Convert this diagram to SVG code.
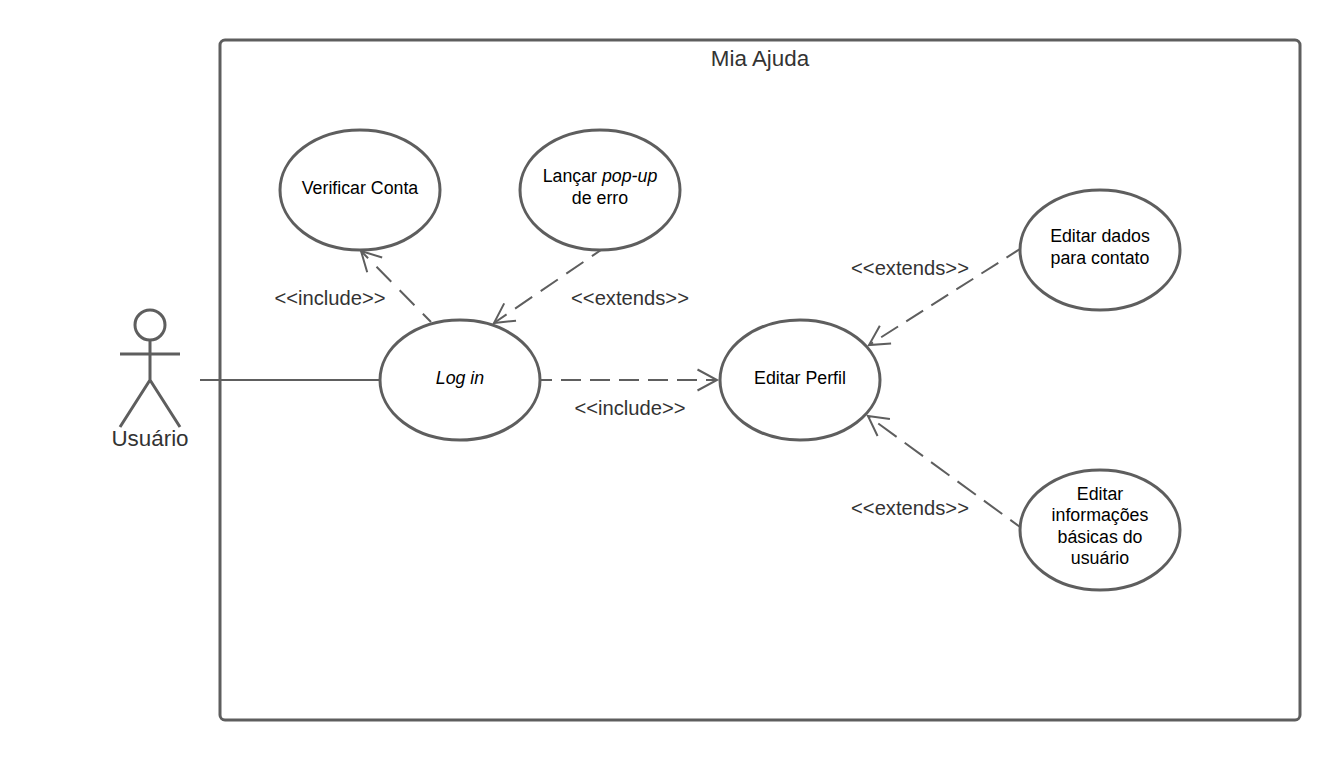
<svg xmlns="http://www.w3.org/2000/svg" width="1340" height="760" viewBox="0 0 1340 760">
<style>
.s{fill:none;stroke:#5e5e5e;stroke-width:3}
.u{fill:#fff;stroke:#5e5e5e;stroke-width:3}
.c{fill:none;stroke:#5e5e5e;stroke-width:2}
.d{marker-end:url(#open)}
text{font-family:"Liberation Sans",Arial,sans-serif;text-anchor:middle}
.n{font-size:17.78px;fill:#000}
.l{font-size:20.2px;fill:#333}
.b{font-size:22.4px;fill:#333}
</style>
<defs>
<marker id="open" markerUnits="userSpaceOnUse" markerWidth="24" markerHeight="26" refX="21" refY="13" orient="auto" viewBox="0 0 24 26"><path d="M1.500 2.500L21 13L1.500 23.500" fill="none" stroke="#5e5e5e" stroke-width="2"/></marker>
</defs>
<rect width="1340" height="760" fill="#fff"/>
<g id="system">
<rect class="s" x="220" y="40" width="1080" height="680" rx="5"/>
<text class="b" x="760" y="66">Mia Ajuda</text>
</g>
<g id="connectors">
<path class="c" d="M200 380H380"/>
<path class="c d" stroke-dasharray="21 12" stroke-dashoffset="9.400" d="M431 322L361 251"/>
<path class="c d" stroke-dasharray="20.700 10.300" stroke-dashoffset="9.700" d="M601 250L494 323"/>
<path class="c d" stroke-dasharray="20 9" stroke-dashoffset="8" d="M540 380H717"/>
<path class="c d" stroke-dasharray="20 9.700" stroke-dashoffset="4" d="M1020 249L869 345"/>
<path class="c d" stroke-dasharray="22.700 10" stroke-dashoffset="10.700" d="M1020 527L868 416"/>
</g>
<g id="actor">
<circle class="s" cx="150" cy="325" r="15"/>
<path class="s" d="M150 340V380M120 354H180M120 427L150 380L180 427"/>
<text class="b" x="150" y="446">Usuário</text>
</g>
<g id="verificar"><ellipse class="u" cx="360" cy="190" rx="80" ry="60"/><text class="n" x="360" y="193.500">Verificar Conta</text></g>
<g id="popup"><ellipse class="u" cx="600" cy="190" rx="80" ry="60"/><text class="n" x="600" y="182">Lançar <tspan font-style="italic">pop-up</tspan></text><text class="n" x="600" y="203.500">de erro</text></g>
<g id="login"><ellipse class="u" cx="460" cy="380" rx="80" ry="60"/><text class="n" x="460" y="383.500" font-style="italic">Log in</text></g>
<g id="perfil"><ellipse class="u" cx="800" cy="380" rx="80" ry="60"/><text class="n" x="800" y="383.500">Editar Perfil</text></g>
<g id="contato"><ellipse class="u" cx="1100" cy="250" rx="80" ry="60"/><text class="n" x="1100" y="242">Editar dados</text><text class="n" x="1100" y="263.500">para contato</text></g>
<g id="basicas"><ellipse class="u" cx="1100" cy="530" rx="80" ry="60"/><text class="n" x="1100" y="499.500">Editar</text><text class="n" x="1100" y="521">informações</text><text class="n" x="1100" y="542.500">básicas do</text><text class="n" x="1100" y="564">usuário</text></g>
<g id="labels">
<text class="l" x="330" y="304.500">&lt;&lt;include&gt;&gt;</text>
<text class="l" x="630" y="304.500">&lt;&lt;extends&gt;&gt;</text>
<text class="l" x="630" y="414.500">&lt;&lt;include&gt;&gt;</text>
<text class="l" x="910" y="274.500">&lt;&lt;extends&gt;&gt;</text>
<text class="l" x="910" y="514.500">&lt;&lt;extends&gt;&gt;</text>
</g>
</svg>
